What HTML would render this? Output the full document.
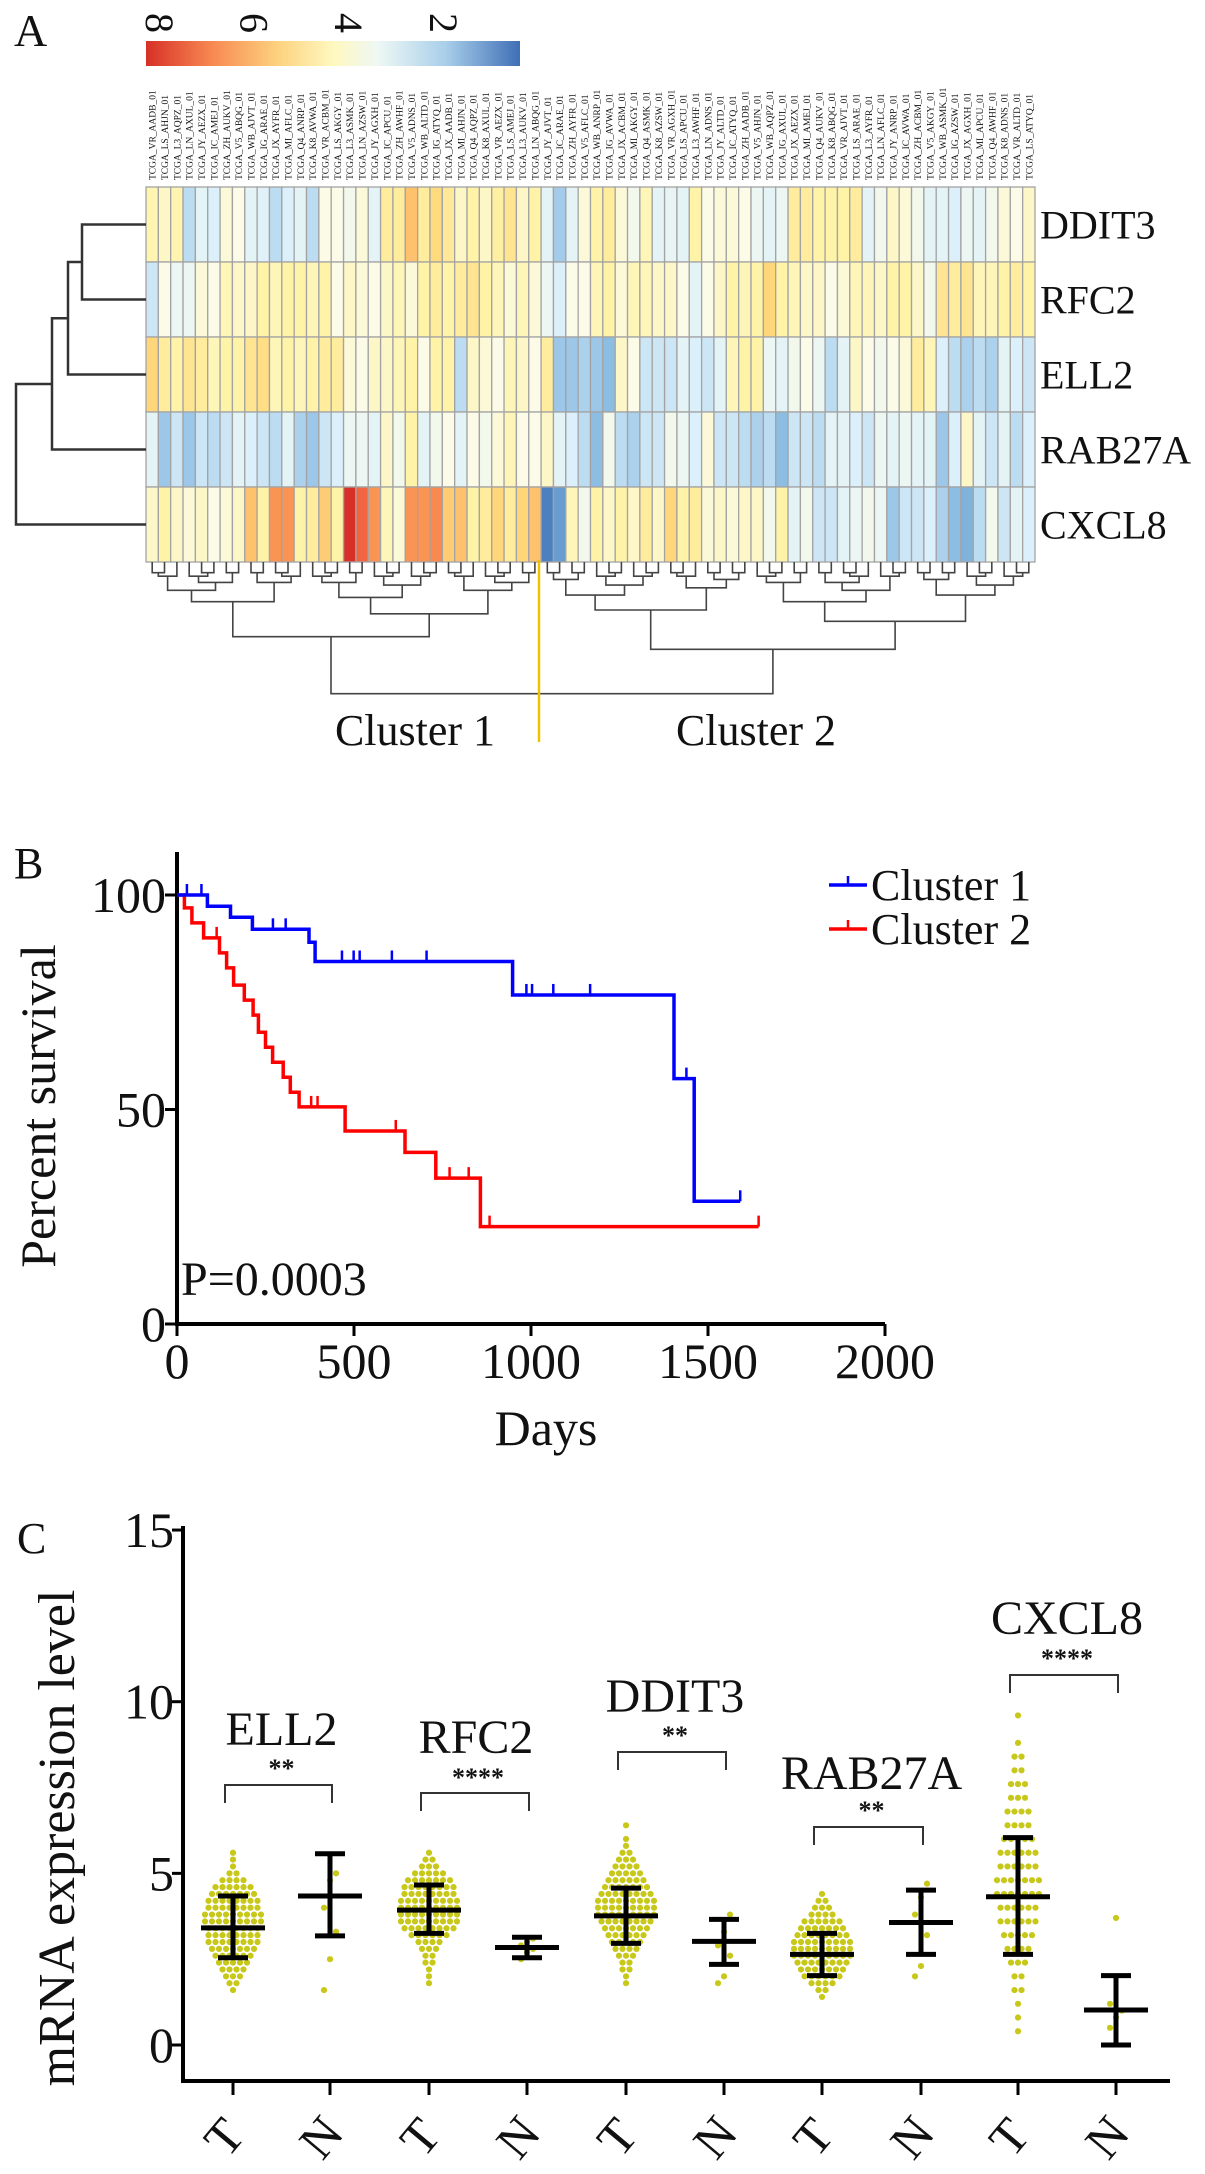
<!DOCTYPE html>
<html><head><meta charset="utf-8">
<style>
html,body{margin:0;padding:0;background:#fff;}
svg{display:block;}
text{font-family:"Liberation Serif",serif;fill:#111;}
</style></head>
<body>
<svg id="fig" width="1205" height="2174" viewBox="0 0 1205 2174" xmlns="http://www.w3.org/2000/svg">
<defs>
<linearGradient id="cbar" x1="0" x2="1" y1="0" y2="0">
<stop offset="0" stop-color="#d73027"/><stop offset="0.18" stop-color="#f88a52"/><stop offset="0.35" stop-color="#fdd17e"/><stop offset="0.5" stop-color="#fff8bf"/><stop offset="0.62" stop-color="#eef8f4"/><stop offset="0.8" stop-color="#a9cfea"/><stop offset="1" stop-color="#3f6fb6"/>
</linearGradient>
</defs>
<g id="panelA"></g>
<g id="panelB"></g>
<g id="panelC"></g>
</svg>
<script>
// ---------- Panel A data ----------
const genes = ["DDIT3","RFC2","ELL2","RAB27A","CXCL8"];
const rowDDIT3 = [4.5,4.2,4.5,2.6,3.2,3.0,4.0,3.8,3.2,3.1,2.6,3.0,3.2,2.6,3.8,3.8,3.6,4.0,3.2,4.8,4.8,5.8,4.8,5.3,4.9,4.2,4.6,4.2,4.7,5.0,4.2,4.6,3.2,2.3,3.2,4.0,
 4.6,4.8,4.0,3.6,4.4,3.2,3.3,3.2,4.6,3.8,4.0,4.0,3.8,3.4,3.2,3.4,4.8,4.8,4.6,4.6,4.6,4.8,3.2,3.6,4.2,4.0,3.6,3.2,3.2,3.0,3.4,3.2,3.6,4.0,3.8,4.2];
const rowRFC2 = [2.8,3.8,3.4,3.4,4.0,3.8,4.4,4.2,4.2,4.6,4.4,4.6,4.6,4.4,4.6,3.8,4.2,4.0,3.8,4.2,4.4,4.0,4.6,4.8,4.6,4.8,5.0,4.6,4.4,4.0,4.4,4.0,3.4,3.0,3.8,3.8,
 4.4,4.6,4.0,4.4,4.4,4.2,4.2,3.8,3.2,3.8,4.2,4.6,4.4,4.6,5.4,4.6,4.4,4.2,4.2,3.8,4.0,4.4,4.4,4.2,4.6,4.6,4.2,3.6,5.0,4.8,5.0,4.4,4.4,4.6,4.8,4.6];
const rowELL2 = [5.4,4.8,4.6,5.0,4.8,4.4,4.6,4.6,5.0,5.2,4.4,4.6,4.4,4.6,4.8,4.8,4.0,3.8,4.2,4.2,4.4,4.6,3.8,4.6,4.6,2.6,4.2,4.0,3.8,4.4,4.2,3.8,4.8,2.2,2.2,2.4,
 2.2,2.0,4.2,3.8,2.8,2.8,2.8,3.2,3.0,2.8,3.2,4.4,4.6,4.6,3.4,3.2,3.6,3.8,3.4,2.6,3.2,4.2,3.8,3.6,3.8,4.0,4.8,4.4,3.0,2.6,2.4,2.6,2.4,3.2,3.0,2.8];
const rowRAB27A = [3.2,2.2,2.8,2.2,2.8,2.6,2.8,3.2,3.0,2.8,2.6,3.2,2.4,2.2,2.8,3.0,3.4,3.4,3.2,4.2,3.6,4.6,3.2,3.6,3.8,3.2,3.8,3.6,4.0,4.4,3.8,3.8,4.2,3.2,3.0,2.6,
 2.0,3.6,2.6,2.4,2.8,2.8,3.6,3.4,3.0,4.0,2.8,2.8,2.6,2.4,2.6,2.0,2.8,2.8,2.6,3.2,3.2,3.0,2.8,3.4,3.2,3.4,3.2,3.2,2.2,3.0,4.2,3.2,2.8,3.2,2.6,3.0];
const rowCXCL8 = [4.2,4.6,4.2,4.0,4.2,3.8,4.0,4.2,5.8,4.6,6.6,6.6,4.6,4.8,5.6,4.6,8.2,7.4,6.6,4.4,4.0,6.6,6.6,6.8,5.6,5.8,4.6,4.8,5.4,4.8,5.4,5.8,0.9,1.4,4.4,3.6,
 4.6,4.2,4.6,4.2,4.8,4.2,5.4,4.6,4.8,4.0,4.2,4.0,4.2,4.2,3.6,4.6,3.2,3.6,2.8,2.8,3.2,3.4,3.6,3.4,2.2,2.8,2.8,3.0,2.4,2.0,1.8,2.6,3.6,2.8,3.2,3.0];
const colorbarTicks = [8,6,4,2];
// ---------- Panel B data ----------
const c1Times = [0,86,151,213,373,390,948,1404,1461];
const c1Surv  = [100,97.4,94.8,92,89,84.5,76.7,57.2,28.6];
const c1End = 1591;
const c1Censor = [28,69,271,307,466,499,516,607,705,987,1003,1063,1167,1439,1591];
const c2Times = [0,21,42,75,120,140,160,190,215,230,250,270,300,320,345,475,644,731,857];
const c2Surv  = [100,97,93.5,90,86.5,83,79,75.5,72,68,64.5,61,57.5,54,50.6,45,40,34,22.7];
const c2End = 1643;
const c2Censor = [112,379,397,618,770,824,883,1643];
const kmXTicks = [0,500,1000,1500,2000];
const kmYTicks = [0,50,100];
// ---------- Panel C data ----------
const groupGenes = ["ELL2","RFC2","DDIT3","RAB27A","CXCL8"];
const groupStars = ["**","****","**","**","****"];
const meanT = [3.41,3.93,3.76,2.64,4.32];
const sdLowT = [2.54,3.25,2.96,2.02,2.64];
const sdHighT = [4.34,4.66,4.57,3.25,6.04];
const meanN = [4.34,2.84,3.02,3.57,1.02];
const sdLowN = [3.18,2.54,2.35,2.64,0.0];
const sdHighN = [5.57,3.14,3.66,4.51,2.02];
const tStart = [1.6,1.8,1.8,1.4,0.4];
const tStep = [0.2,0.2,0.2,0.2,0.4];
const tCountsELL2 = [1,2,3,4,5,6,7,8,8,8,9,9,8,8,7,6,4,2,1,1,1];
const tCountsRFC2 = [1,1,1,2,2,3,4,6,8,9,9,9,9,8,8,7,5,3,2,1];
const tCountsDDIT3 = [1,1,2,2,3,4,5,6,7,8,9,9,9,8,7,6,5,4,3,2,1,1,0,1];
const tCountsRAB27A = [1,2,4,6,7,8,9,9,9,8,7,6,4,3,2,1];
const tCountsCXCL8 = [1,1,1,2,2,3,4,5,6,6,7,7,6,6,5,4,4,3,3,2,2,1,0,1];
const nELL2 = [1.6,2.5,3.3,4.0,4.8,5.0];
const nRFC2 = [2.5,2.7,2.8,2.9,3.0,3.1];
const nDDIT3 = [1.8,2.0,2.6,2.9,3.3,3.8];
const nRAB27A = [2.0,2.3,3.2,3.8,4.3,4.7];
const nCXCL8 = [0.5,0.8,1.0,1.2,3.7];
const cYTicks = [0,5,10,15];

const NS="http://www.w3.org/2000/svg";
function mk(parent,tag,attrs,txt){const e=document.createElementNS(NS,tag);for(const k in attrs)e.setAttribute(k,attrs[k]);if(txt!==undefined)e.textContent=txt;parent.appendChild(e);return e;}

// ===== Panel A =====
(function(){
const g=document.getElementById('panelA');
const t=mk(g,'text',{x:14,y:46,'font-size':46});t.textContent='A';


const cb=mk(g,'rect',{x:146,y:41,width:374,height:25,fill:'url(#cbar)'});


const cbX=v=>160+(8-v)*47.3;
colorbarTicks.forEach(v=>{
  const e=mk(g,'text',{x:0,y:0,'font-size':40,'text-anchor':'middle',transform:`translate(${cbX(v)-14},23) rotate(90)`},String(v));
  
  
});
const stops=[[0.6,[58,111,181]],[2.0,[140,189,227]],[3.0,[220,240,251]],[3.8,[251,251,232]],[4.6,[255,243,168]],[5.4,[255,215,122]],[6.5,[251,154,88]],[7.3,[244,109,67]],[8.2,[215,48,39]]];
function col(v){if(v<=stops[0][0])return`rgb(${stops[0][1]})`;for(let i=1;i<stops.length;i++){if(v<=stops[i][0]){const a=stops[i-1],b=stops[i],f=(v-a[0])/(b[0]-a[0]);return`rgb(${a[1].map((c,k)=>Math.round(c+(b[1][k]-c)*f)).join(',')})`;}}return`rgb(${stops[stops.length-1][1]})`;}
const rows=[rowDDIT3,rowRFC2,rowELL2,rowRAB27A,rowCXCL8];
const nC=rowDDIT3.length, X0=146, X1=1035, Y0=187, RH=75, CW=(X1-X0)/nC;
// column labels
const codes="ABCDEFGHJKLMNPQRSTUVWXYZ";
const sites=["VR","LS","L3","LN","JY","IC","ZH","V5","WB","IG","JX","MI","Q4","K8"];
for(let c=0;c<nC;c++){
  const lab=`TCGA_${sites[c%sites.length]}_A${codes[(c*7)%24]}${codes[(c*5+3)%24]}${codes[(c*11+1)%24]}_01`;
  const e=mk(g,'text',{x:0,y:0,'font-size':9.5,fill:'#777','font-family':'Liberation Sans, sans-serif',transform:`translate(${X0+CW*(c+0.5)+3.5},180) rotate(-90)`},lab);
  
  
}
rows.forEach((row,r)=>{row.forEach((v,c)=>{
  const e=mk(g,'rect',{x:X0+CW*c,y:Y0+RH*r,width:CW,height:RH,fill:col(v),stroke:'#a3a3a3','stroke-width':1.3});
  
  
});
  const l=mk(g,'text',{x:1040,y:Y0+RH*r+RH/2+14,'font-size':40},genes[r]);
  
  
});
// row dendrogram
const rc=i=>Y0+RH*i+RH/2;
const dpath=`M146 ${rc(0)}H82V${rc(1)}H146 M82 ${(rc(0)+rc(1))/2}H68V${rc(2)}H146 M68 ${(rc(0)+rc(1))/2/2+rc(2)/2}H52V${rc(3)}H146 M52 384H16V${rc(4)}H146`;
const rd=mk(g,'path',{d:dpath,fill:'none',stroke:'#333','stroke-width':2.5});


// column dendrogram
let dp='';
function build(lo,hi,depth){ // returns [x, y]
  const n=hi-lo;
  if(n===1)return[X0+CW*(lo+0.5),562];
  let mid;
  if(lo===0&&hi===nC)mid=32;else{const f=(depth%2?0.42:0.58);mid=lo+Math.max(1,Math.min(n-1,Math.round(n*f)));}
  const a=build(lo,mid,depth+1),b=build(mid,hi,depth+1);
  const y=562+6.6*Math.pow(n,0.7);
  dp+=`M${a[0].toFixed(1)} ${a[1].toFixed(1)}V${y.toFixed(1)}H${b[0].toFixed(1)}V${b[1].toFixed(1)}`;
  return[(a[0]+b[0])/2,y];
}
build(0,nC,0);
const cd=mk(g,'path',{d:dp,fill:'none',stroke:'#444','stroke-width':1.6});


const yl=mk(g,'line',{x1:539,y1:560,x2:539,y2:742,stroke:'#f2c200','stroke-width':2.5});


const k1=mk(g,'text',{x:415,y:745,'font-size':44,'text-anchor':'middle'},'Cluster 1');


const k2=mk(g,'text',{x:756,y:745,'font-size':44,'text-anchor':'middle'},'Cluster 2');


})();

// ===== Panel B =====
(function(){
const g=document.getElementById('panelB');
const X=d=>177+d*0.354, Y=p=>1324-p*4.29;
const b=mk(g,'text',{x:14,y:878,'font-size':44},'B');


const ax=mk(g,'path',{d:`M177 852V1324H885`,fill:'none',stroke:'#000','stroke-width':4});


kmXTicks.forEach(v=>{
  const tk=mk(g,'line',{x1:X(v),y1:1324,x2:X(v),y2:1336,stroke:'#000','stroke-width':3});
  
  
  const e=mk(g,'text',{x:X(v),y:1378,'font-size':50,'text-anchor':'middle'},String(v));
  
  
});
kmYTicks.forEach(v=>{
  const tk=mk(g,'line',{x1:165,y1:Y(v),x2:177,y2:Y(v),stroke:'#000','stroke-width':3});
  
  
  const e=mk(g,'text',{x:166,y:Y(v)+17,'font-size':50,'text-anchor':'end'},String(v));
  
  
});
const xt=mk(g,'text',{x:546,y:1445,'font-size':50,'text-anchor':'middle'},'Days');


const yt=mk(g,'text',{x:0,y:0,'font-size':50,'text-anchor':'middle',transform:'translate(55,1106) rotate(-90)'},'Percent survival');


const pv=mk(g,'text',{x:181,y:1295,'font-size':48},'P=0.0003');


function curve(times,surv,end,cens,color,name){
  let d=`M${X(times[0])} ${Y(surv[0])}`;
  for(let i=1;i<times.length;i++){d+=`H${X(times[i]).toFixed(1)}V${Y(surv[i]).toFixed(1)}`;}
  d+=`H${X(end).toFixed(1)}`;
  const p=mk(g,'path',{d:d,fill:'none',stroke:color,'stroke-width':3.5});
  
  
  cens.forEach(c=>{let s=surv[0];for(let i=0;i<times.length;i++)if(times[i]<=c)s=surv[i];
    const m=mk(g,'line',{x1:X(c),y1:Y(s),x2:X(c),y2:Y(s)-11,stroke:color,'stroke-width':2.5});
    
    
  });
}
curve(c2Times,c2Surv,c2End,c2Censor,'#ff0000','cluster-2-curve');
curve(c1Times,c1Surv,c1End,c1Censor,'#0000ff','cluster-1-curve');
[['#0000ff','Cluster 1',885],['#ff0000','Cluster 2',929]].forEach(([c,t,y])=>{
  const l=mk(g,'line',{x1:829,y1:y,x2:867,y2:y,stroke:c,'stroke-width':3.5});
  
  
  mk(g,'line',{x1:848,y1:y,x2:848,y2:y-9,stroke:c,'stroke-width':2.5});
  const e=mk(g,'text',{x:871,y:y+15,'font-size':44},t);
  
  
});
})();

// ===== Panel C =====
(function(){
const g=document.getElementById('panelC');
const Y=v=>2045-v*34.33;
const tX=[233,429,626,822,1018], nX=[330,527,724,921,1116];
const c=mk(g,'text',{x:17,y:1553,'font-size':44},'C');


const ax=mk(g,'path',{d:'M183 1526V2081H1170',fill:'none',stroke:'#000','stroke-width':4});


cYTicks.forEach(v=>{
  const tk=mk(g,'line',{x1:172,y1:Y(v),x2:183,y2:Y(v),stroke:'#000','stroke-width':3});
  
  
  const e=mk(g,'text',{x:174,y:Y(v)+17,'font-size':50,'text-anchor':'end'},String(v));
  
  
});
const yt=mk(g,'text',{x:0,y:0,'font-size':52,'text-anchor':'middle',transform:'translate(74,1838) rotate(-90)'},'mRNA expression level');


const dotC='#c8c81a';
const tCounts=[tCountsELL2,tCountsRFC2,tCountsDDIT3,tCountsRAB27A,tCountsCXCL8];
const nVals=[nELL2,nRFC2,nDDIT3,nRAB27A,nCXCL8];
for(let i=0;i<5;i++){
  tCounts[i].forEach((n,k)=>{const v=tStart[i]+tStep[i]*k;for(let j=0;j<n;j++){
    const d=mk(g,'circle',{cx:tX[i]+(j-(n-1)/2)*7,cy:Y(v),r:3.1,fill:dotC});
    
    
  }});
  nVals[i].forEach((v,k)=>{
    const d=mk(g,'circle',{cx:nX[i]+((k%3)-1)*6,cy:Y(v),r:3.1,fill:dotC});
    
    
  });
  [[tX[i],meanT[i],sdLowT[i],sdHighT[i],'tumor-error-bar'],[nX[i],meanN[i],sdLowN[i],sdHighN[i],'normal-error-bar']].forEach(([x,m,lo,hi,nm])=>{
    const p=mk(g,'path',{d:`M${x} ${Y(lo)}V${Y(hi)}M${x-15} ${Y(lo)}H${x+15}M${x-15} ${Y(hi)}H${x+15}M${x-32} ${Y(m)}H${x+32}`,fill:'none',stroke:'#000','stroke-width':5});
    
    
  });
  // x ticks and labels
  [[tX[i],'T'],[nX[i],'N']].forEach(([x,l])=>{
    const tk=mk(g,'line',{x1:x,y1:2081,x2:x,y2:2095,stroke:'#000','stroke-width':3});
    
    
    const e=mk(g,'text',{x:0,y:0,'font-size':50,'text-anchor':'middle',transform:`translate(${x+4},2148) rotate(-50)`},l);
    
    
  });
}
const labelY=[1745,1753,1712,1789,1634];
const starY=[1777,1786,1744,1819,1667];
const brY=[1785,1793,1752,1827,1675];
for(let i=0;i<5;i++){
  const cx=(tX[i]+nX[i])/2;
  const gl=mk(g,'text',{x:cx+(i===1?-2:0),y:labelY[i],'font-size':48,'text-anchor':'middle'},groupGenes[i]);
  
  
  const st=mk(g,'text',{x:cx,y:starY[i],'font-size':26,'text-anchor':'middle','font-family':'Liberation Sans, sans-serif','font-weight':'bold'},groupStars[i]);
  
  
  const br=mk(g,'path',{d:`M${tX[i]-8} ${brY[i]+18}V${brY[i]}H${nX[i]+2}V${brY[i]+18}`,fill:'none',stroke:'#333','stroke-width':2});
  
  
}
})();
</script>
</body></html>
